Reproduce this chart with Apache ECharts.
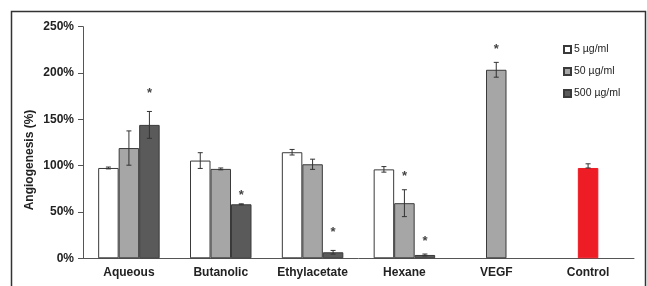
<!DOCTYPE html>
<html>
<head>
<meta charset="utf-8">
<script src="https://cdn.jsdelivr.net/npm/echarts@6/dist/echarts.min.js"></script>
<style>
  html, body { margin: 0; padding: 0; background: #fff; }
  #chart { width: 647px; height: 286px; }
</style>
</head>
<body>
<div id="chart"></div>
<script>
const categories = ['Aqueous', 'Butanolic', 'Ethylacetate', 'Hexane', 'VEGF', 'Control']
const yTicks = [0, 50, 100, 150, 200, 250]

// extract groups (%), '-' = no bar
const dose5 = [97.5, 105.5, 114.5, 96, '-', '-']
const dose5Err = [1, 8.5, 3, 3, 0, 0]
const dose50 = [119, 96.5, 101.5, 59.5, '-', '-']
const dose50Err = [18.5, 1, 5.5, 14.5, 0, 0]
const dose500 = [144, 58.3, 6.5, 3.6, '-', '-']
const dose500Err = [14.5, 0.5, 2, 1, 0, 0]
// VEGF / Control single bars
const refVals = ['-', '-', '-', '-', 203.5, 97.5]
const refErrUp = [0, 0, 0, 0, 8, 4.5]
const refErrDown = [0, 0, 0, 0, 8, 0]
// significance marks (% position of the star)
const star50 = [null, null, null, 88, null, null]
const star500 = [178, 68, 28, 18, null, null]
const starRef = [null, null, null, null, 225.5, null]

const BW = 20.5
const edge = '#3a3a3a'

function errData(vals, up, down, slot) {
  const out = []
  vals.forEach((v, i) => {
    if (v === '-') return
    out.push([i, v, up[i], down[i], slot])
  })
  return out
}
function starData(stars, slot) {
  const out = []
  stars.forEach((s, i) => { if (s != null) out.push([i, s, slot]) })
  return out
}

const errors = [].concat(
  errData(dose5, dose5Err, dose5Err, -1),
  errData(dose50, dose50Err, dose50Err, 0),
  errData(dose500, dose500Err, dose500Err, 1),
  errData(refVals, refErrUp, refErrDown, 0)
)
const stars = [].concat(starData(star50, 0), starData(star500, 1), starData(starRef, 0))

function renderErr(params, api) {
  const i = api.value(0), v = api.value(1)
  const x = api.coord([i, v])[0] + api.value(4) * BW
  const yTop = api.coord([i, v + api.value(2)])[1]
  const yBot = api.coord([i, v - api.value(3)])[1]
  const st = { stroke: '#333', lineWidth: 1 }
  return {
    type: 'group',
    children: [
      { type: 'line', shape: { x1: x, y1: yTop, x2: x, y2: yBot }, style: st },
      { type: 'line', shape: { x1: x - 2.5, y1: yTop, x2: x + 2.5, y2: yTop }, style: st },
      { type: 'line', shape: { x1: x - 2.5, y1: yBot, x2: x + 2.5, y2: yBot }, style: st }
    ]
  }
}
function renderStar(params, api) {
  const p = api.coord([api.value(0), api.value(1)])
  return {
    type: 'text',
    x: p[0] + api.value(2) * BW,
    y: p[1],
    style: { text: '*', fill: '#444', font: 'bold 13px "Liberation Sans"', align: 'center', verticalAlign: 'middle' }
  }
}

const chart = echarts.init(document.getElementById('chart'))
chart.setOption({
  animation: false,
  textStyle: { fontFamily: 'Liberation Sans' },
  grid: { left: 83, right: 13, top: 26.7, bottom: 27.7 },
  graphic: [
    { type: 'rect', shape: { x: 11.5, y: 11.5, width: 634, height: 300 }, style: { fill: 'none', stroke: '#333', lineWidth: 1.5 } },
    { type: 'text', x: 30, y: 160, rotation: Math.PI / 2,
      style: { text: 'Angiogenesis (%)', font: 'bold 12px "Liberation Sans"', fill: '#222', align: 'center', verticalAlign: 'middle' } }
  ],
  legend: {
    orient: 'vertical', left: 558, top: 39, itemWidth: 7, itemHeight: 7, itemGap: 11,
    icon: 'rect',
    data: ['5 µg/ml', '50 µg/ml', '500 µg/ml'],
    textStyle: { fontSize: 10.5, color: '#222', padding: [0, 0, 0, -2] }
  },
  xAxis: [
    {
      type: 'category', data: categories,
      axisLine: { lineStyle: { color: '#555' } },
      axisTick: { length: 4, lineStyle: { color: '#555' } },
      axisLabel: { interval: 0, fontWeight: 'bold', fontSize: 12, color: '#222', margin: 8 }
    },
    { type: 'category', data: categories, show: false }
  ],
  yAxis: {
    type: 'value', min: yTicks[0], max: yTicks[yTicks.length - 1], interval: 50,
    splitLine: { show: false },
    axisLine: { show: true, lineStyle: { color: '#555' } },
    axisTick: { show: true, length: 5, lineStyle: { color: '#555' } },
    axisLabel: { formatter: '{value}%', fontWeight: 'bold', fontSize: 12, color: '#222', margin: 9 }
  },
  series: [
    { name: '5 µg/ml', type: 'bar', data: dose5, barWidth: BW, barGap: '0%',
      itemStyle: { color: '#ffffff', borderColor: edge, borderWidth: 1 } },
    { name: '50 µg/ml', type: 'bar', data: dose50, barWidth: BW, barGap: '0%',
      itemStyle: { color: '#a6a6a6', borderColor: edge, borderWidth: 1 } },
    { name: '500 µg/ml', type: 'bar', data: dose500, barWidth: BW, barGap: '0%',
      itemStyle: { color: '#5a5a5a', borderColor: edge, borderWidth: 1 } },
    { name: 'ref', type: 'bar', xAxisIndex: 1, barWidth: BW,
      data: refVals.map((v, i) => i === 5
        ? { value: v, itemStyle: { color: '#ee1c25', borderColor: '#ee1c25' } }
        : { value: v, itemStyle: { color: '#a6a6a6', borderColor: edge } }),
      itemStyle: { borderWidth: 1 } },
    { type: 'custom', renderItem: renderErr, data: errors, z: 5, silent: true },
    { type: 'custom', renderItem: renderStar, data: stars, z: 5, silent: true }
  ]
})
</script>
</body>
</html>
